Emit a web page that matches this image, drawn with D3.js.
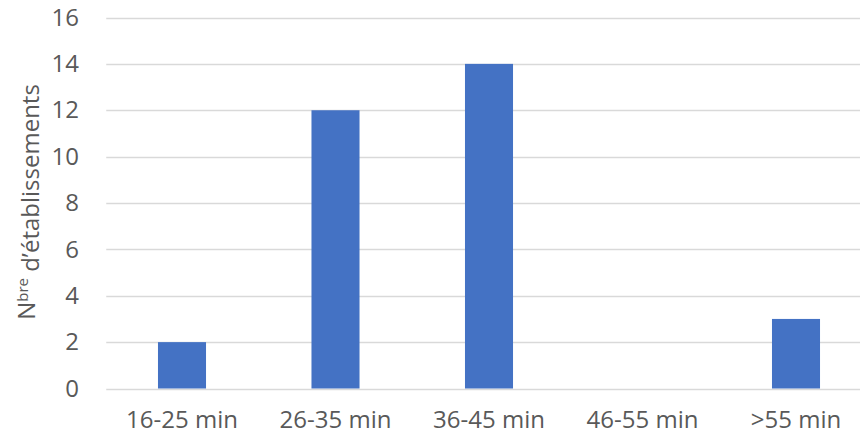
<html>
<head>
    <meta charset="utf-8">
    <script src="https://d3js.org/d3.v7.min.js"></script>
    <style>
        body { margin: 0; background: #fff; }
    </style>
</head>
<body>
    <div id="my_dataviz"></div>

<script>
    // data
    const categories = ["16-25 min", "26-35 min", "36-45 min", "46-55 min", ">55 min"];
    const counts = [2, 12, 14, 0, 3];
    const yTicks = [0, 2, 4, 6, 8, 10, 12, 14, 16];

    const W = 860, H = 442;
    const plotLeft = 105.25, plotRight = 872.75, plotTop = 17.5, plotBottom = 388.5;

    const svg = d3.select("#my_dataviz")
      .append("svg")
        .attr("width", W)
        .attr("height", H)
        .style("font-family", "'Open Sans', sans-serif");

    const x = d3.scaleBand()
      .domain(categories)
      .range([plotLeft, plotRight])
      .paddingInner(0.687)
      .paddingOuter(0.3435);

    const y = d3.scaleLinear()
      .domain([0, 16])
      .range([plotBottom, plotTop]);

    // gridlines
    svg.append("g")
      .selectAll("line")
      .data(yTicks)
      .join("line")
        .attr("x1", plotLeft + 1)
        .attr("x2", W)
        .attr("y1", d => Math.round(y(d)) + 0.5)
        .attr("y2", d => Math.round(y(d)) + 0.5)
        .style("stroke", "#d9d9d9")
        .style("stroke-width", 1.3);

    // y axis labels
    const yAxis = svg.append("g")
      .attr("transform", "translate(84,0)")
      .call(d3.axisLeft(y).tickValues(yTicks).tickSize(0).tickPadding(5));
    yAxis.select(".domain").remove();
    yAxis.selectAll("text")
      .style("font-size", "24px")
      .style("font-family", "'Open Sans', sans-serif")
      .attr("fill", "#595959");

    // x axis labels
    const xAxis = svg.append("g")
      .attr("transform", `translate(0, ${plotBottom})`)
      .call(d3.axisBottom(x).tickSize(0).tickPadding(22));
    xAxis.select(".domain").remove();
    xAxis.selectAll("text")
      .style("font-size", "24px")
      .style("font-family", "'Open Sans', sans-serif")
      .attr("fill", "#595959");

    // bars
    svg.append("g")
      .selectAll("rect")
      .data(counts)
      .join("rect")
        .attr("x", (d, i) => x(categories[i]))
        .attr("y", d => y(d))
        .attr("width", x.bandwidth())
        .attr("height", d => y(0) - y(d))
        .style("fill", "#4472c4");

    // y axis title
    const title = svg.append("text")
      .attr("transform", `translate(35, ${(plotTop + plotBottom) / 2 - 1}) rotate(-90)`)
      .attr("text-anchor", "middle")
      .style("font-size", "24px")
      .attr("fill", "#595959");
    title.append("tspan").text("N");
    title.append("tspan").attr("dy", "-0.45em").style("font-size", "15px").text("bre");
    title.append("tspan").attr("dy", "0.45em").text(" d’établissements");
</script>
</body>
</html>
